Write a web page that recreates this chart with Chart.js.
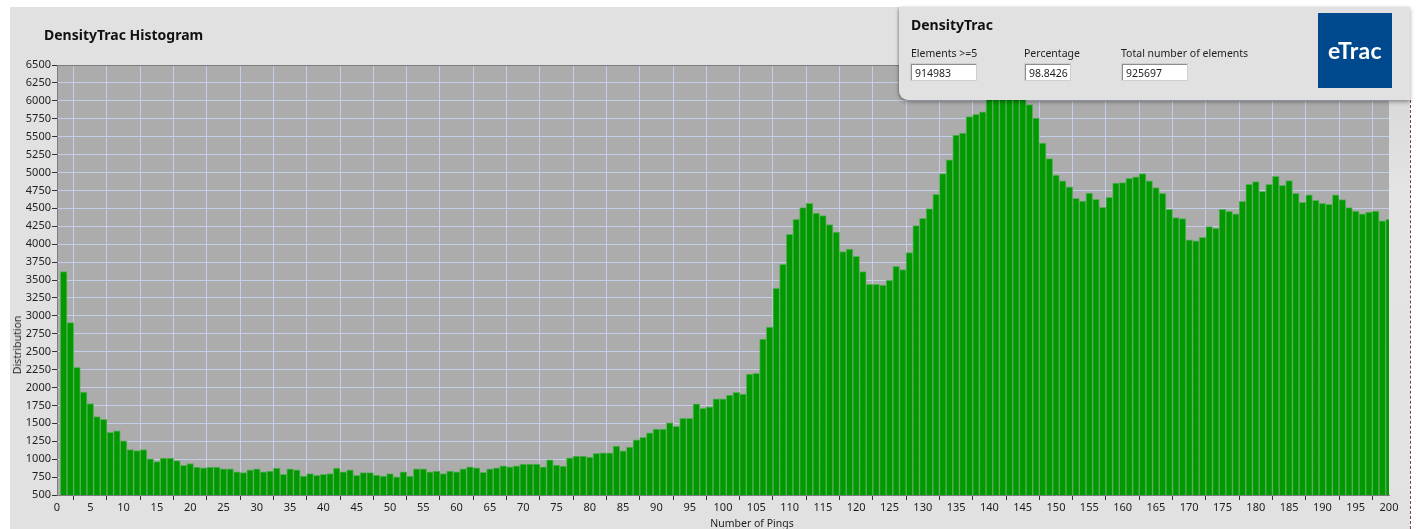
<!DOCTYPE html>
<html>
<head>
<meta charset="utf-8">
<script src="https://cdn.jsdelivr.net/npm/chart.js@4.4.1/dist/chart.umd.min.js"></script>
<style>
  html, body { margin:0; padding:0; background:#ffffff; width:1416px; height:529px; overflow:hidden; }
  body { position:relative; font-family:"Noto Sans", "Open Sans", sans-serif; color:#1e1e1e; }
  #bg { position:absolute; left:10px; top:7px; width:1400px; height:522px; background:#e1e1e1; }
  #rightstrip { position:absolute; left:1389px; top:65px; width:21px; height:430px;
    background:linear-gradient(to bottom,#d6d6d6,#e4e4e4 30%,#e2e2e2); }
  #dash { position:absolute; left:1410px; top:100px; width:0; height:429px; border-left:1px dashed #7b3d5e; }
  #wrap { position:absolute; left:0; top:0; width:1416px; height:529px; }
  #title { position:absolute; left:44px; top:25px; font-weight:700; font-size:14px; white-space:nowrap; color:#111; }
  #ytitle { position:absolute; left:17px; top:345px; font-size:10.5px; transform:translate(-50%,-50%) rotate(-90deg); white-space:nowrap; }
  #xtitle { position:absolute; left:752px; top:516px; font-size:10.5px; transform:translateX(-50%); white-space:nowrap; }
  #panel { position:absolute; left:899px; top:7px; width:511px; height:93px; background:#e1e1e1;
    border-bottom-left-radius:9px; box-shadow:0 2px 4px rgba(0,0,0,0.35), -1px 0 2px rgba(0,0,0,0.15); }
  .ptitle { position:absolute; left:12px; top:8px; font-weight:700; font-size:14px; color:#111; }
  .plab { position:absolute; top:39px; font-size:10.5px; white-space:nowrap; }
  .pbox { position:absolute; top:56px; height:18px; background:#fff; border:1px solid #cfcfcf;
    box-shadow: inset 1px 1px 0 #8d8d8d; font-size:10.5px; line-height:18px; padding-left:4px; box-sizing:border-box; }
  #logo { position:absolute; left:419px; top:6px; width:74px; height:75px; background:#00498f; color:#fff;
    font-family:"Lato","Open Sans",sans-serif; font-weight:700; font-size:23px; text-align:center; line-height:75px; letter-spacing:0.3px; }
</style>
</head>
<body>
<div id="bg"></div>
<div id="rightstrip"></div>
<div id="dash"></div>
<div id="wrap"><canvas id="c" width="1416" height="529"></canvas></div>
<div id="title">DensityTrac Histogram</div>
<div id="ytitle">Distribution</div>
<div id="xtitle">Number of Pings</div>
<div id="panel">
  <div class="ptitle">DensityTrac</div>
  <div class="plab" style="left:12px">Elements &gt;=5</div>
  <div class="plab" style="left:125px">Percentage</div>
  <div class="plab" style="left:222px">Total number of elements</div>
  <div class="pbox" style="left:11px;width:67px">914983</div>
  <div class="pbox" style="left:125px;width:47px">98.8426</div>
  <div class="pbox" style="left:222px;width:67px">925697</div>
  <div id="logo">eTrac</div>
</div>
<script>
const pings = [
  1,2,3,4,5,6,7,8,9,10,11,12,13,14,15,16,17,18,19,20,
  21,22,23,24,25,26,27,28,29,30,31,32,33,34,35,36,37,38,39,40,
  41,42,43,44,45,46,47,48,49,50,51,52,53,54,55,56,57,58,59,60,
  61,62,63,64,65,66,67,68,69,70,71,72,73,74,75,76,77,78,79,80,
  81,82,83,84,85,86,87,88,89,90,91,92,93,94,95,96,97,98,99,100,
  101,102,103,104,105,106,107,108,109,110,111,112,113,114,115,116,117,118,119,120,
  121,122,123,124,125,126,127,128,129,130,131,132,133,134,135,136,137,138,139,140,
  141,142,143,144,145,146,147,148,149,150,151,152,153,154,155,156,157,158,159,160,
  161,162,163,164,165,166,167,168,169,170,171,172,173,174,175,176,177,178,179,180,
  181,182,183,184,185,186,187,188,189,190,191,192,193,194,195,196,197,198,199,200
];
const distribution = [
  3616,2905,2280,1935,1775,1595,1555,1375,1395,1255,1135,1120,1135,1005,968,1015,1015,982,915,940,
  890,878,890,890,865,865,825,812,850,865,825,835,875,790,865,850,765,800,775,790,
  800,875,825,850,775,812,812,778,765,800,752,825,765,865,865,825,835,800,835,825,
  865,892,880,815,866,880,908,894,908,931,931,931,894,992,917,903,1020,1043,1043,1029,
  1080,1090,1090,1183,1117,1169,1271,1303,1369,1420,1420,1508,1457,1569,1569,1773,1708,1731,1843,1843,
  1894,1931,1908,2187,2196,2677,2844,3384,3719,4137,4346,4509,4570,4435,4398,4272,4170,3895,3932,3830,
  3616,3440,3440,3430,3495,3691,3644,3881,4258,4360,4498,4697,4986,5176,5523,5551,5782,5810,5847,6150,
  6250,6300,6280,6200,6100,5949,5759,5412,5194,4963,4884,4801,4639,4602,4713,4625,4514,4653,4852,4861,
  4917,4940,4986,4885,4791,4711,4487,4371,4357,4060,4046,4097,4246,4222,4487,4459,4422,4599,4836,4873,
  4738,4836,4948,4822,4887,4711,4585,4687,4613,4571,4557,4687,4622,4511,4460,4422,4446,4460,4325,4348
];
const xMin = 0, xMax = 200, xStep = 5;
const yMin = 500, yMax = 6500, yStep = 250;

const points = pings.map((p, i) => ({ x: p, y: distribution[i] }));

const plotBg = {
  id: 'plotBg',
  beforeDraw(chart) {
    const { ctx, chartArea: a } = chart;
    ctx.save();
    ctx.fillStyle = '#acacac';
    ctx.fillRect(a.left, a.top, a.right - a.left, a.bottom - a.top);
    ctx.restore();
  },
  afterDraw(chart) {
    const { ctx, chartArea: a } = chart;
    ctx.save();
    ctx.strokeStyle = '#7d7d7d';
    ctx.lineWidth = 1;
    ctx.beginPath();
    ctx.moveTo(a.left, a.top + 0.5);
    ctx.lineTo(a.right, a.top + 0.5);
    ctx.stroke();
    ctx.restore();
  }
};

const tickFont = { family: '"Noto Sans", "Open Sans", sans-serif', size: 11 };

new Chart(document.getElementById('c'), {
  type: 'bar',
  data: {
    datasets: [{
      data: points,
      backgroundColor: '#009a00',
      borderColor: '#5aae5a',
      borderWidth: 1,
      borderSkipped: 'bottom',
      barPercentage: 1,
      categoryPercentage: 1
    }]
  },
  options: {
    responsive: false,
    animation: false,
    events: [],
    layout: { padding: { left: 0, right: 27, top: 65, bottom: 0 } },
    plugins: { legend: { display: false }, tooltip: { enabled: false }, title: { display: false } },
    scales: {
      x: {
        type: 'linear',
        min: xMin, max: xMax,
        offset: false,
        grid: { color: '#c4cee8', lineWidth: 1, tickLength: 5, tickColor: '#333', drawTicks: true },
        border: { display: true, color: '#7d7d7d' },
        ticks: { stepSize: xStep, autoSkip: false, maxRotation: 0, color: '#1e1e1e', font: tickFont, padding: 1,
          callback: v => String(v) },
        afterFit(s) { s.height = 34; }
      },
      y: {
        min: yMin, max: yMax,
        grid: { color: '#c4cee8', lineWidth: 1, tickLength: 5, tickColor: '#333' },
        border: { display: true, color: '#7d7d7d' },
        ticks: { stepSize: yStep, autoSkip: false, color: '#1e1e1e', font: tickFont, padding: 1,
          callback: v => String(v) },
        afterFit(s) { s.width = 57; }
      }
    }
  },
  plugins: [plotBg]
});
</script>
</body>
</html>
